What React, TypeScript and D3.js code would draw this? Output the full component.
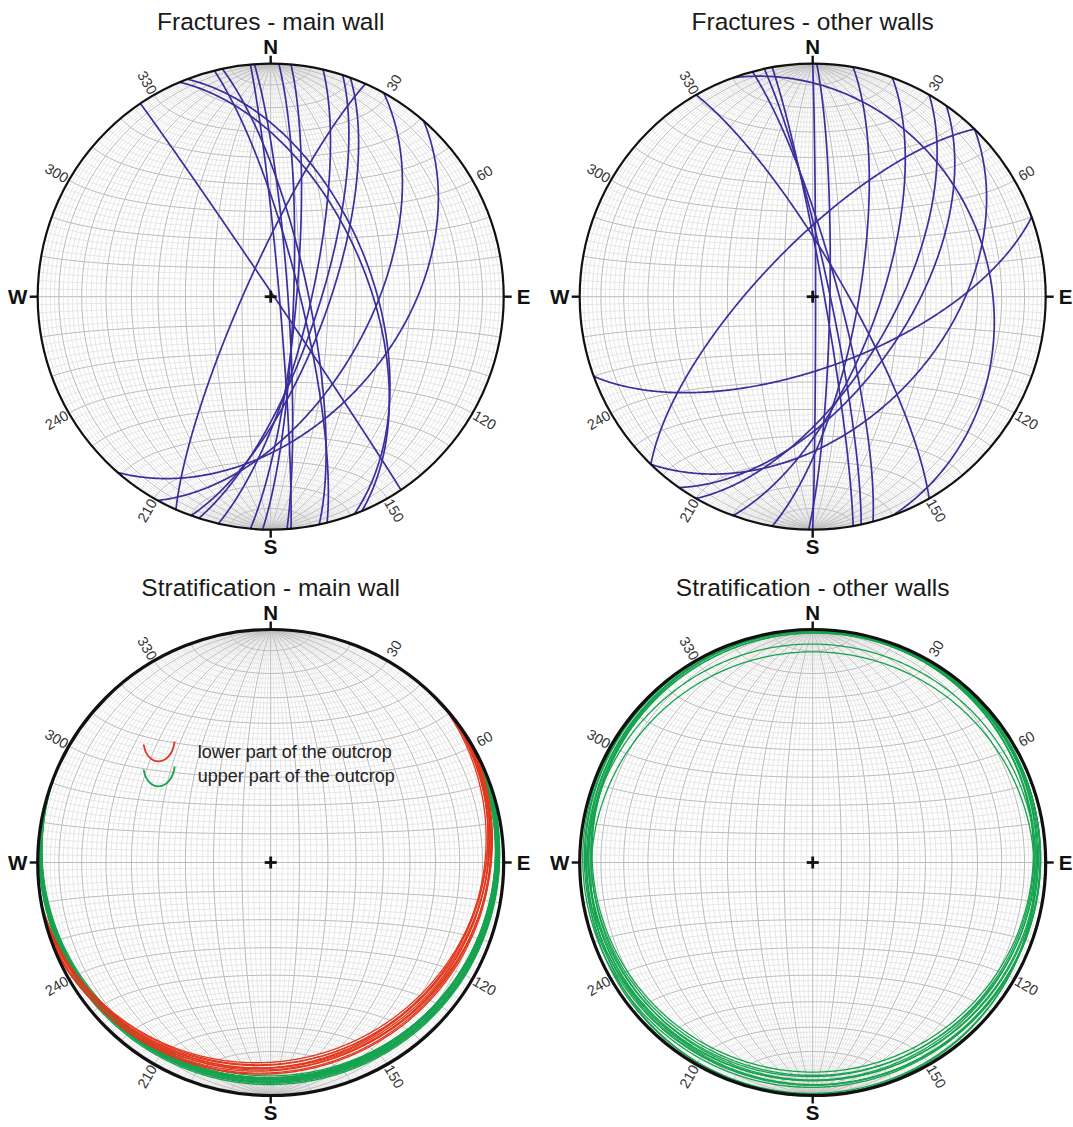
import React from 'react';
import * as d3 from 'd3';

// fracture planes as [dip direction, dip], degrees
const fracturesMainWall: [number, number][] = [
  [56, 89], [67, 56], [69, 54], [76, 80], [78, 77], [85, 87], [86, 84],
  [92, 82], [95, 81], [103, 76], [108, 73], [110, 70], [294, 81], [119, 55], [131, 45],
];
const fracturesOtherWalls: [number, number][] = [
  [60, 79], [70, 25], [75, 81], [78, 84], [80, 86], [90, 89], [91, 84],
  [100, 74], [110, 67], [120, 62], [125, 57], [314, 72], [134, 44], [160, 65],
];

// stratification traces as small circles: [axis trend, axis plunge, cone angle]
const strataLowerMain: [number, number, number][] = [
  [335, 78, 87.9], [332, 80, 88.2], [338, 77, 87.7], [330, 79, 88], [336, 76, 87.5],
  [340, 78.5, 88], [333, 80.5, 88.3], [328, 77.5, 87.8], [337, 79, 88.1], [334, 77, 87.6],
];
const strataUpperMain: [number, number, number][] = [
  [352, 85.5, 88.1], [348, 84.5, 87.7], [355, 83.5, 87.2], [350, 85, 88], [345, 84, 87.4],
  [358, 84.5, 87.8], [346, 84, 87.4], [353, 85.8, 88.3], [350, 84, 87.5], [0, 84.8, 87.9],
  [343, 84.5, 87.6], [356, 84.2, 87.5], [349, 85.2, 88.2], [351, 86.2, 88.5],
];
const strataOtherWalls: [number, number, number][] = [
  [0, 87, 86], [10, 88, 87], [350, 86, 85], [180, 85, 84.5], [20, 87, 85.5], [340, 86.5, 86],
  [5, 85.5, 85], [355, 87.5, 87.5], [30, 88, 86.5], [0, 85, 84], [345, 88, 88], [190, 87, 86],
];

const degreeTicks = [30, 60, 120, 150, 210, 240, 300, 330];
const cardinals: [string, number][] = [['N', 0], ['E', 90], ['S', 180], ['W', 270]];

const BLUE = '#3a2f9c';
const RED = '#e2381d';
const GREEN = '#16a34f';
const FONT = '"Liberation Sans", Arial, Helvetica, sans-serif';

type Pt = [number, number] | null;
const rad = Math.PI / 180;

// lower hemisphere, equal-area (Schmidt). x east, y north, z down
function project(x: number, y: number, z: number): [number, number] {
  const k = 1 / Math.sqrt(1 + z);
  return [x * k, y * k];
}

function coneTrace(trend: number, plunge: number, alpha: number, step = 0.5): Pt[] {
  const t = trend * rad, p = plunge * rad, a = alpha * rad;
  const A = [Math.sin(t) * Math.cos(p), Math.cos(t) * Math.cos(p), Math.sin(p)];
  const U = [Math.sin(t) * Math.sin(p), Math.cos(t) * Math.sin(p), -Math.cos(p)];
  const V = [A[1] * U[2] - A[2] * U[1], A[2] * U[0] - A[0] * U[2], A[0] * U[1] - A[1] * U[0]];
  const raw: number[][] = [];
  for (let f = 0; f <= 360; f += step) {
    const c = Math.cos(f * rad), s = Math.sin(f * rad);
    raw.push([0, 1, 2].map((i) => Math.cos(a) * A[i] + Math.sin(a) * (c * U[i] + s * V[i])));
  }
  const out: Pt[] = [];
  raw.forEach((q, i) => {
    if (i > 0) {
      const prev = raw[i - 1];
      if ((prev[2] >= 0) !== (q[2] >= 0)) {
        const u = prev[2] / (prev[2] - q[2]);
        const bx = prev[0] + u * (q[0] - prev[0]);
        const by = prev[1] + u * (q[1] - prev[1]);
        const n = Math.hypot(bx, by);
        out.push([bx / n, by / n]);
      }
    }
    out.push(q[2] >= 0 ? project(q[0], q[1], q[2]) : null);
  });
  return out;
}

const planeTrace = (dd: number, dip: number) => coneTrace(dd + 180, 90 - dip, 90);

// Schmidt net grid: meridians through N/S and small circles about the N-S axis
function meridian(beta: number): Pt[] {
  const pts: Pt[] = [];
  const b = beta * rad;
  for (let f = 0; f <= 180; f += 2) {
    const s = Math.sin(f * rad);
    pts.push(project(s * Math.cos(b), Math.cos(f * rad), s * Math.sin(b)));
  }
  return pts;
}
function parallel(gamma: number): Pt[] {
  const pts: Pt[] = [];
  const g = gamma * rad;
  for (let f = 0; f <= 180; f += 2) {
    pts.push(project(Math.sin(g) * Math.cos(f * rad), Math.cos(g), Math.sin(g) * Math.sin(f * rad)));
  }
  return pts;
}
const gridSteps = d3.range(2, 180, 2);

interface Series { traces: Pt[][]; color: string; width: number }

interface NetProps {
  cx: number;
  cy: number;
  r: number;
  title: string;
  rimWidth: number;
  series: Series[];
  legend?: boolean;
}

const Net: React.FC<NetProps> = ({ cx, cy, r, title, rimWidth, series, legend }) => {
  const x = d3.scaleLinear().domain([-1, 1]).range([cx - r, cx + r]);
  const y = d3.scaleLinear().domain([-1, 1]).range([cy + r, cy - r]);
  const line = d3
    .line<Pt>()
    .defined((d) => d !== null)
    .x((d) => x(d![0]))
    .y((d) => y(d![1]));

  const fine = gridSteps.filter((v) => v % 10 !== 0);
  const bold = gridSteps.filter((v) => v % 10 === 0);
  const clipId = `clip-${Math.round(cx)}-${Math.round(cy)}`;

  return (
    <g>
      <defs>
        <clipPath id={clipId}>
          <circle cx={cx} cy={cy} r={r} />
        </clipPath>
      </defs>
      <text x={cx} y={cy - r - 34} textAnchor="middle" fontFamily={FONT} fontSize={24.5} fill="#1a1a1a">
        {title}
      </text>
      <circle cx={cx} cy={cy} r={r} fill="#fff" />
      <g fill="none" clipPath={`url(#${clipId})`}>
        {fine.map((v) => (
          <path key={`fm${v}`} d={line(meridian(v)) || ''} stroke="#d8d8d8" strokeWidth={0.6} />
        ))}
        {fine.map((v) => (
          <path key={`fp${v}`} d={line(parallel(v)) || ''} stroke="#d8d8d8" strokeWidth={0.6} />
        ))}
        {bold.map((v) => (
          <path key={`bm${v}`} d={line(meridian(v)) || ''} stroke="#bbbbbb" strokeWidth={1} />
        ))}
        {bold.map((v) => (
          <path key={`bp${v}`} d={line(parallel(v)) || ''} stroke="#bbbbbb" strokeWidth={1} />
        ))}
      </g>
      <g fill="none" strokeLinejoin="round" strokeLinecap="round">
        {series.map((s, si) =>
          s.traces.map((tr, i) => (
            <path key={`s${si}-${i}`} d={line(tr) || ''} stroke={s.color} strokeWidth={s.width} />
          ))
        )}
      </g>
      <circle cx={cx} cy={cy} r={r} fill="none" stroke="#111" strokeWidth={rimWidth} />
      <g stroke="#111" strokeWidth={2.8}>
        <line x1={cx - 6} x2={cx + 6} y1={cy} y2={cy} />
        <line x1={cx} x2={cx} y1={cy - 6} y2={cy + 6} />
      </g>
      {cardinals.map(([lab, az]) => {
        const sx = Math.sin(az * rad), sy = -Math.cos(az * rad);
        return (
          <g key={lab}>
            <line
              x1={cx + sx * r}
              y1={cy + sy * r}
              x2={cx + sx * (r + 8)}
              y2={cy + sy * (r + 8)}
              stroke="#111"
              strokeWidth={2.4}
            />
            <text
              x={cx + sx * (r + (az % 180 === 0 ? 17 : 20))}
              y={cy + sy * (r + 17) + 7.3}
              textAnchor="middle"
              fontFamily={FONT}
              fontWeight="bold"
              fontSize={20.5}
              fill="#111"
            >
              {lab}
            </text>
          </g>
        );
      })}
      {degreeTicks.map((az) => {
        const px = cx + Math.sin(az * rad) * (r + 14);
        const py = cy - Math.cos(az * rad) * (r + 14);
        const rot = az < 180 ? az - 90 : az - 270;
        return (
          <text
            key={az}
            x={px}
            y={py}
            transform={`rotate(${rot},${px},${py})`}
            textAnchor="middle"
            dominantBaseline="central"
            fontFamily={FONT}
            fontSize={14.5}
            fill="#333"
          >
            {az}
          </text>
        );
      })}
      {legend && (
        <g fontFamily={FONT} fontSize={18} fill="#222">
          <path
            d={`M${cx - 127},${cy - 118} C${cx - 124},${cy - 96} ${cx - 100},${cy - 94} ${cx - 96},${cy - 121}`}
            fill="none"
            stroke={RED}
            strokeWidth={1.8}
          />
          <path
            d={`M${cx - 127},${cy - 93} C${cx - 124},${cy - 71} ${cx - 100},${cy - 69} ${cx - 96},${cy - 96}`}
            fill="none"
            stroke={GREEN}
            strokeWidth={1.8}
          />
          <text x={cx - 73} y={cy - 105}>lower part of the outcrop</text>
          <text x={cx - 73} y={cy - 81}>upper part of the outcrop</text>
        </g>
      )}
    </g>
  );
};

const App: React.FC = () => {
  const R = 233;
  const cols = [270.7, 812.7];
  const rows = [296.7, 862.5];
  const toPlanes = (list: [number, number][]) => list.map(([dd, dip]) => planeTrace(dd, dip));
  const toCones = (list: [number, number, number][]) => list.map(([t, p, a]) => coneTrace(t, p, a));

  return (
    <div>
      <style>{'body{margin:0}'}</style>
      <svg width={1073} height={1127} style={{ display: 'block', background: '#fff' }}>
        <Net
          cx={cols[0]}
          cy={rows[0]}
          r={R}
          rimWidth={2.2}
          title="Fractures - main wall"
          series={[{ traces: toPlanes(fracturesMainWall), color: BLUE, width: 1.7 }]}
        />
        <Net
          cx={cols[1]}
          cy={rows[0]}
          r={R}
          rimWidth={2.2}
          title="Fractures - other walls"
          series={[{ traces: toPlanes(fracturesOtherWalls), color: BLUE, width: 1.7 }]}
        />
        <Net
          cx={cols[0]}
          cy={rows[1]}
          r={R}
          rimWidth={3.2}
          title="Stratification - main wall"
          legend
          series={[
            { traces: toCones(strataUpperMain), color: GREEN, width: 1.3 },
            { traces: toCones(strataLowerMain), color: RED, width: 1.3 },
          ]}
        />
        <Net
          cx={cols[1]}
          cy={rows[1]}
          r={R}
          rimWidth={3.2}
          title="Stratification - other walls"
          series={[{ traces: toCones(strataOtherWalls), color: GREEN, width: 1.3 }]}
        />
      </svg>
    </div>
  );
};

export default App;
